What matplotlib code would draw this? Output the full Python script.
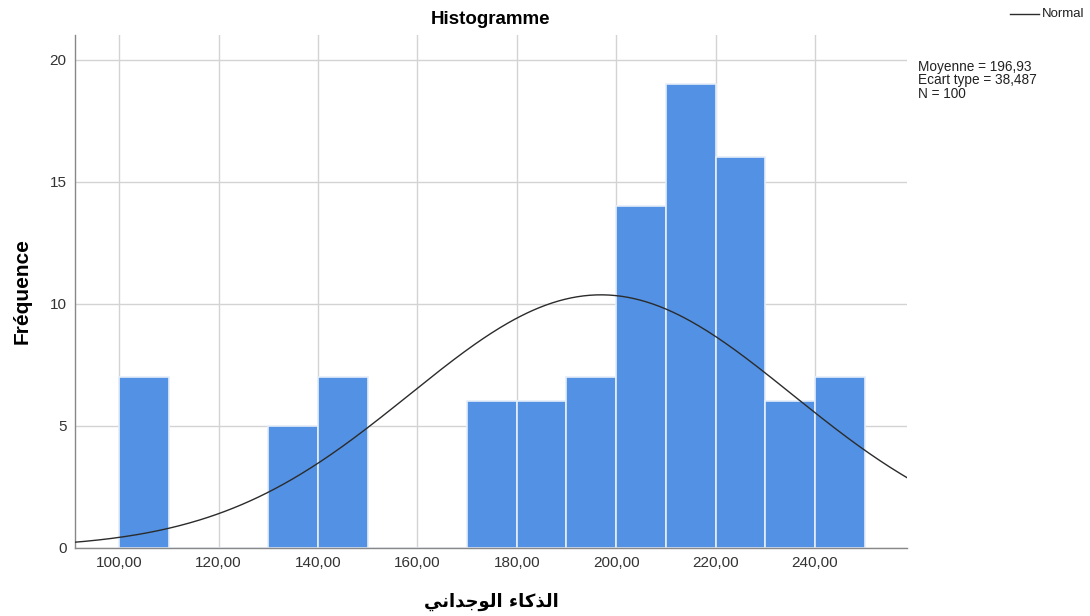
import numpy as np
import matplotlib
matplotlib.use("Agg")
import matplotlib.pyplot as plt

# Data
bin_edges = [100, 110, 120, 130, 140, 150, 160, 170, 180, 190, 200, 210, 220, 230, 240, 250]
counts = [7, 0, 0, 5, 7, 0, 0, 6, 6, 7, 14, 19, 16, 6, 7]
mean_val = 196.93
sd_val = 38.487
n_val = 100
x_ticks = [100, 120, 140, 160, 180, 200, 220, 240]
x_tick_labels = ["100,00", "120,00", "140,00", "160,00", "180,00", "200,00", "220,00", "240,00"]
y_ticks = [0, 5, 10, 15, 20]
title = "Histogramme"
ylabel = "Fréquence"
# "الذكاء الوجداني" written in visual order with Arabic presentation forms
xlabel = "\uFEF2\uFEE7\uFE8D\uFEAA\uFE9F\uFEEE\uFEDF\uFE8D \uFE80\uFE8E\uFEDB\uFEAC\uFEDF\uFE8D"
stats_text = "Moyenne = 196,93\nEcart type = 38,487\nN = 100"

plt.rcParams['font.family'] = ['Liberation Sans', 'DejaVu Sans']

fig = plt.figure(figsize=(10.9, 6.16), dpi=100)
ax = fig.add_axes([0.0688, 0.1104, 0.7632, 0.8326])

lefts = bin_edges[:-1]
widths = np.diff(bin_edges)
ax.bar(lefts, counts, width=widths, align='edge', color='#5291E3',
       edgecolor='#E6EEF8', linewidth=1.2, zorder=2)

xs = np.linspace(90, 258.5, 400)
binw = widths[0]
ys = n_val * binw / (sd_val * np.sqrt(2 * np.pi)) * np.exp(-0.5 * ((xs - mean_val) / sd_val) ** 2)
ax.plot(xs, ys, color='#2b2b2b', linewidth=1.0, zorder=3)

ax.set_xlim(91.1, 258.5)
ax.set_ylim(0, 21.0)
ax.set_xticks(x_ticks)
ax.set_xticklabels(x_tick_labels)
ax.set_yticks(y_ticks)
ax.grid(True, color='#D3D3D3', linewidth=1.0, zorder=0)
ax.set_axisbelow(True)
for s in ['top', 'right']:
    ax.spines[s].set_visible(False)
for s in ['left', 'bottom']:
    ax.spines[s].set_color('#888888')
    ax.spines[s].set_linewidth(1.0)
ax.tick_params(axis='both', length=0, labelsize=11, colors='#333333', pad=6)

ax.set_title(title, fontsize=13.5, fontweight='bold', pad=8)
ax.set_ylabel(ylabel, fontsize=15, fontweight='bold', labelpad=13)
ax.set_xlabel(xlabel, fontsize=13, fontweight='bold', labelpad=16, family=['DejaVu Sans'])

fig.text(0.842, 0.903, stats_text, fontsize=9.8, va='top', ha='left',
         color='#222222', linespacing=0.95)

# Legend for Normal curve
fig.lines.append(plt.Line2D([0.927, 0.953], [0.977, 0.977], color='#2b2b2b',
                            linewidth=1.0, transform=fig.transFigure))
fig.text(0.956, 0.977, "Normal", fontsize=9.5, va='center', ha='left', color='#222222')

fig.savefig("out.png", dpi=100)
